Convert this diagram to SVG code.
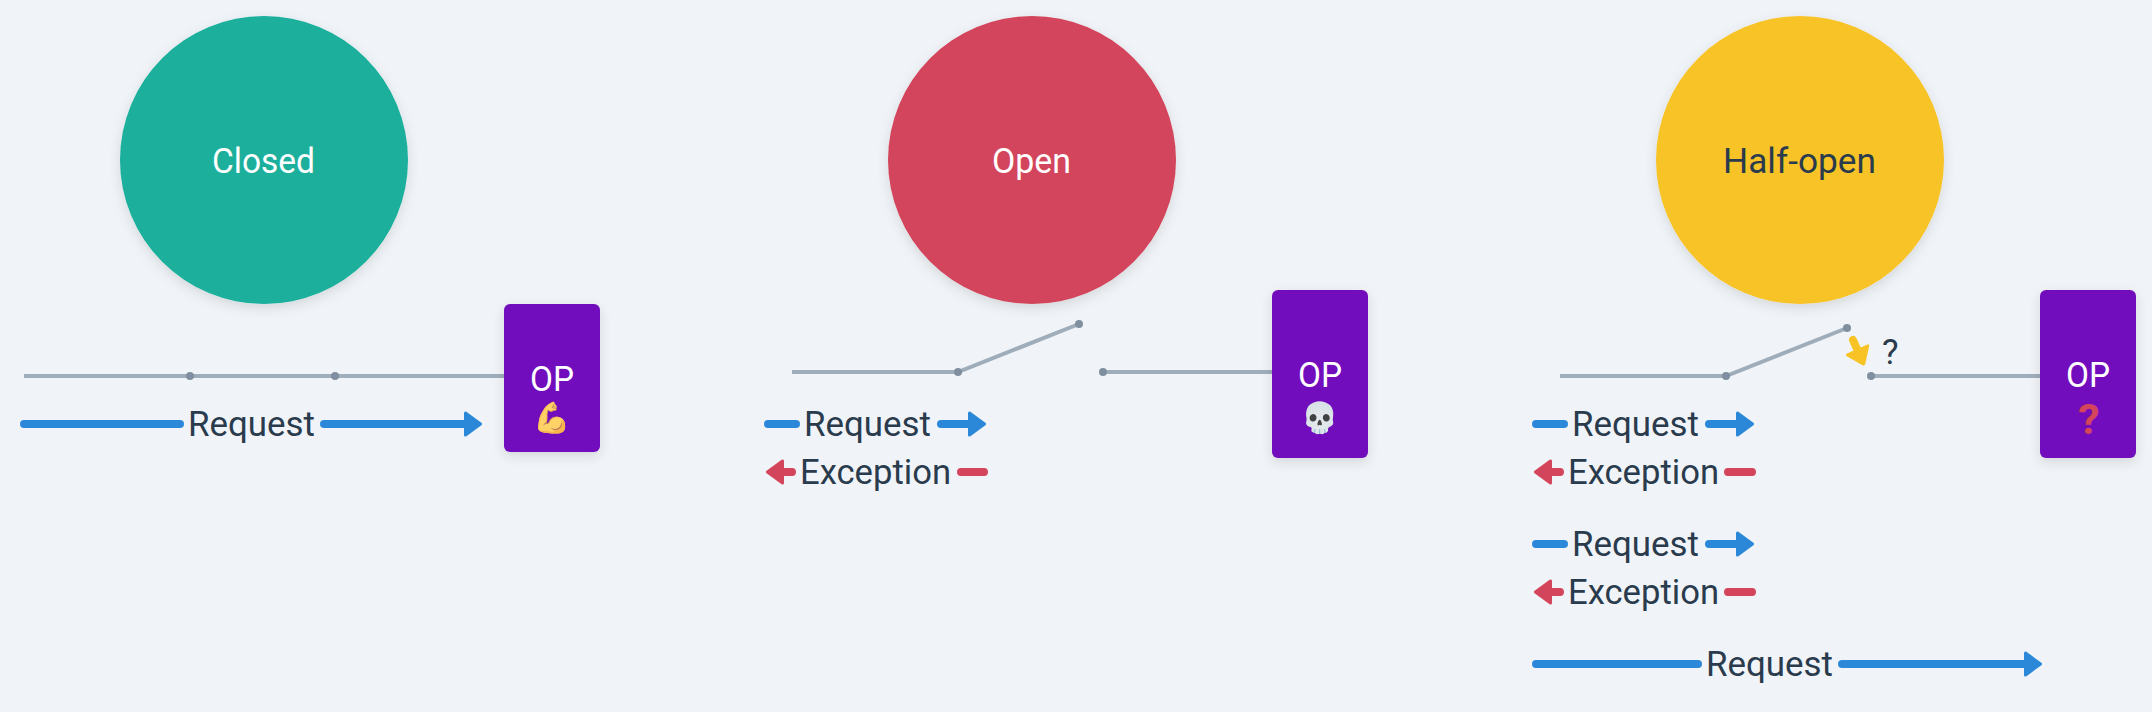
<svg xmlns="http://www.w3.org/2000/svg" width="2152" height="712" viewBox="0 0 2152 712">
<style>
.t{font-family:"Roboto","Noto Sans",sans-serif;font-size:35px;fill:#2a3b4d}
.w{fill:#fff}
.wire{stroke:#9fadba;stroke-width:4;fill:none}
.dot{fill:#7f8fa0}
.blue,.red,.yel{stroke-width:8;stroke-linecap:round;fill:none}
.blue{stroke:#2b88d8}.red{stroke:#d3455b}.yel{stroke:#f7c325}
.box{fill:#720ebd}
.emoji{font-family:"Noto Color Emoji","Noto Sans",sans-serif;font-size:30px;text-anchor:middle}
</style>
<defs>
<filter id="sh" x="-20%" y="-20%" width="140%" height="140%"><feDropShadow dx="0" dy="4" stdDeviation="6" flood-color="#000" flood-opacity=".12"/></filter>
<filter id="soft" x="-10%" y="-10%" width="120%" height="120%" color-interpolation-filters="sRGB"><feColorMatrix type="matrix" values="1 0 0 0 0  0 .85 0 0 .15  0 0 .7 0 .3  0 0 0 1 0"/></filter>
<marker id="hb" markerUnits="userSpaceOnUse" viewBox="0 0 18 26" refX="0" refY="13" markerWidth="18" markerHeight="26" orient="auto"><path d="M1.5 2L16.5 13L1.5 24Z" fill="#2b88d8" stroke="#2b88d8" stroke-width="3" stroke-linejoin="round"/></marker>
<marker id="hr" markerUnits="userSpaceOnUse" viewBox="0 0 18 26" refX="0" refY="13" markerWidth="18" markerHeight="26" orient="auto"><path d="M1.5 2L16.5 13L1.5 24Z" fill="#d3455b" stroke="#d3455b" stroke-width="3" stroke-linejoin="round"/></marker>
<marker id="hy" markerUnits="userSpaceOnUse" viewBox="0 0 18 26" refX="0" refY="13" markerWidth="18" markerHeight="26" orient="auto"><path d="M1.5 2L16.5 13L1.5 24Z" fill="#f7c325" stroke="#f7c325" stroke-width="3" stroke-linejoin="round"/></marker>
</defs>
<rect width="2152" height="712" fill="#f0f4f8"/>

<g id="connectors">
<path class="wire" d="M24 376H504"/>
<path class="wire" d="M792 372H958L1079 324"/>
<path class="wire" d="M1103 372H1272"/>
<path class="wire" d="M1560 376H1726L1847 328"/>
<path class="wire" d="M1871 376H2040"/>
<path class="yel" d="M1853 340L1857 349" marker-end="url(#hy)"/>
<path class="blue" d="M24 424H180"/>
<path class="blue" d="M324 424H464" marker-end="url(#hb)"/>
<path class="blue" d="M768 424H796"/>
<path class="blue" d="M941 424H968" marker-end="url(#hb)"/>
<path class="red" d="M792 472H784" marker-end="url(#hr)"/>
<path class="red" d="M961 472H984"/>
<path class="blue" d="M1536 424H1564"/>
<path class="blue" d="M1709 424H1736" marker-end="url(#hb)"/>
<path class="red" d="M1560 472H1552" marker-end="url(#hr)"/>
<path class="red" d="M1728 472H1752"/>
<path class="blue" d="M1536 544H1564"/>
<path class="blue" d="M1709 544H1736" marker-end="url(#hb)"/>
<path class="red" d="M1560 592H1552" marker-end="url(#hr)"/>
<path class="red" d="M1728 592H1752"/>
<path class="blue" d="M1536 664H1698"/>
<path class="blue" d="M1842 664H2024" marker-end="url(#hb)"/>
</g>

<g id="junctions">
<circle class="dot" cx="190" cy="376" r="4"/><circle class="dot" cx="335" cy="376" r="4"/>
<circle class="dot" cx="958" cy="372" r="4"/><circle class="dot" cx="1079" cy="324" r="4"/><circle class="dot" cx="1103" cy="372" r="4"/>
<circle class="dot" cx="1726" cy="376" r="4"/><circle class="dot" cx="1847" cy="328" r="4"/><circle class="dot" cx="1871" cy="376" r="4"/>
</g>

<g id="closed"><circle cx="264" cy="160" r="144" fill="#1aaf9c" filter="url(#sh)"/><text class="t w" x="212" y="173" textLength="103" lengthAdjust="spacingAndGlyphs">Closed</text></g>
<g id="open"><circle cx="1032" cy="160" r="144" fill="#d3455b" filter="url(#sh)"/><text class="t w" x="992" y="173" textLength="79" lengthAdjust="spacingAndGlyphs">Open</text></g>
<g id="half-open"><circle cx="1800" cy="160" r="144" fill="#f7c325" filter="url(#sh)"/><text class="t" x="1723" y="173" textLength="153" lengthAdjust="spacingAndGlyphs">Half-open</text></g>

<g id="op-closed"><rect class="box" x="504" y="304" width="96" height="148" rx="6" filter="url(#sh)"/><text class="t w" x="530" y="391" textLength="44" lengthAdjust="spacingAndGlyphs">OP</text><text class="emoji" x="552" y="428" filter="url(#soft)">💪</text></g>
<g id="op-open"><rect class="box" x="1272" y="290" width="96" height="168" rx="6" filter="url(#sh)"/><text class="t w" x="1298" y="387" textLength="44" lengthAdjust="spacingAndGlyphs">OP</text><text class="emoji" x="1320" y="428">💀</text></g>
<g id="op-half"><rect class="box" x="2040" y="290" width="96" height="168" rx="6" filter="url(#sh)"/><text class="t w" x="2066" y="387" textLength="44" lengthAdjust="spacingAndGlyphs">OP</text><text x="2089" y="434" text-anchor="middle" font-family="Roboto,sans-serif" font-weight="700" font-size="43" fill="#d3455b">?</text></g>

<g id="labels">
<text class="t" x="188" y="436" textLength="127" lengthAdjust="spacingAndGlyphs">Request</text>
<text class="t" x="804" y="436" textLength="127" lengthAdjust="spacingAndGlyphs">Request</text>
<text class="t" x="800" y="484" textLength="151" lengthAdjust="spacingAndGlyphs">Exception</text>
<text class="t" x="1572" y="436" textLength="127" lengthAdjust="spacingAndGlyphs">Request</text>
<text class="t" x="1568" y="484" textLength="151" lengthAdjust="spacingAndGlyphs">Exception</text>
<text class="t" x="1572" y="556" textLength="127" lengthAdjust="spacingAndGlyphs">Request</text>
<text class="t" x="1568" y="604" textLength="151" lengthAdjust="spacingAndGlyphs">Exception</text>
<text class="t" x="1706" y="676" textLength="127" lengthAdjust="spacingAndGlyphs">Request</text>
<text class="t" x="1882" y="364">?</text>
</g>
</svg>
